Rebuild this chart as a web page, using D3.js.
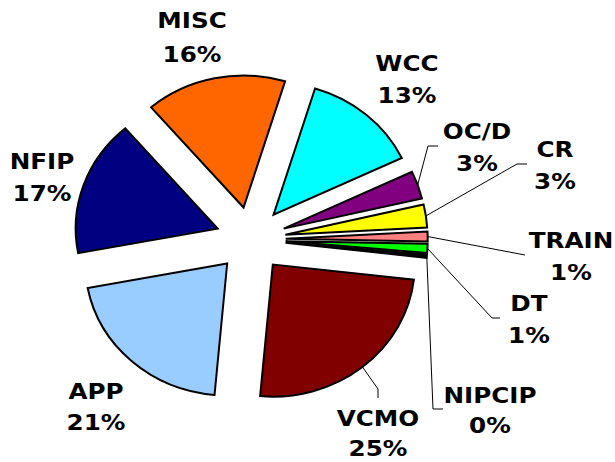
<!DOCTYPE html>
<html>
<head>
<meta charset="utf-8">
<script src="https://cdn.jsdelivr.net/npm/d3@7"></script>
<style>
  html, body { margin: 0; padding: 0; background: #fff; }
  svg { display: block; }
  .lbl { font-family: "DejaVu Sans", Verdana, sans-serif; font-weight: bold; font-size: 22px; fill: #000; }
</style>
</head>
<body>
<svg id="chart" width="615" height="462"></svg>
<script>
// ---- data ----
const categories = ["WCC", "OC/D", "CR", "TRAIN", "DT", "NIPCIP", "VCMO", "APP", "NFIP", "MISC"];
const values     = [13.2, 3.4, 2.8, 1.2, 1.1, 0.4, 24.6, 20.6, 16.7, 16.0];
const colors     = ["#00FFFF", "#800080", "#FFFF00", "#FF8080", "#00FF00", "#000000", "#800000", "#99CCFF", "#000080", "#FF6600"];

// ---- layout (label anchor: center x, baseline of line 1, baseline of line 2; leader bends) ----
const labelLayout = {
  "WCC":    { x: 407, y1: 71,  y2: 103, leader: [] },
  "OC/D":   { x: 477, y1: 139, y2: 171, leader: [[428, 146], [438, 146]] },
  "CR":     { x: 555, y1: 157, y2: 189, leader: [[517, 164], [527, 164]] },
  "TRAIN":  { x: 571, y1: 248, y2: 280, leader: [[525, 255]] },
  "DT":     { x: 529, y1: 311, y2: 343, leader: [[492, 318], [500, 318]] },
  "NIPCIP": { x: 490, y1: 403, y2: 433, leader: [[433, 409], [443, 409]] },
  "VCMO":   { x: 378, y1: 426, y2: 456, leader: [[378, 389], [378, 398]] },
  "APP":    { x: 96,  y1: 399, y2: 430, leader: [] },
  "NFIP":   { x: 42,  y1: 169, y2: 201, leader: [] },
  "MISC":   { x: 192, y1: 28,  y2: 62,  leader: [] }
};
const textStretch = 1.12; // widen glyphs to resemble Verdana Bold

const cx = 250.7, cy = 239.4;
const rx = 142, ry = 132;
const explode = 35;
const sy = ry / rx;
const start = 17 * Math.PI / 180;

const data = categories.map((c, i) => ({ name: c, value: values[i], color: colors[i] }));
const total = d3.sum(values);

const svg = d3.select("#chart");

const pie = d3.pie().sort(null).value(d => d.value)
  .startAngle(start).endAngle(start + 2 * Math.PI);
const arc = d3.arc().innerRadius(0).outerRadius(rx);
const arcs = pie(data);

const mid = d => (d.startAngle + d.endAngle) / 2;

svg.append("g").selectAll("g.slice")
  .data(arcs)
  .join("g")
  .attr("class", "slice")
  .attr("transform", d => {
    const a = mid(d);
    const ox = cx + explode * Math.sin(a);
    const oy = cy - explode * sy * Math.cos(a);
    return `translate(${ox},${oy}) scale(1,${sy})`;
  })
  .append("path")
  .attr("d", arc)
  .attr("fill", d => d.data.color)
  .attr("stroke", "#000")
  .attr("stroke-width", 2)
  .attr("vector-effect", "non-scaling-stroke");

// leader lines
const line = d3.line();
svg.append("g").selectAll("path.leader")
  .data(arcs.filter(d => labelLayout[d.data.name].leader.length))
  .join("path")
  .attr("class", "leader")
  .attr("fill", "none")
  .attr("stroke", "#000")
  .attr("stroke-width", 1)
  .attr("d", d => {
    const a = mid(d);
    const p0 = [cx + (explode + rx) * Math.sin(a), cy - (explode * sy + ry) * Math.cos(a)];
    return line([p0, ...labelLayout[d.data.name].leader]);
  });

// labels
const lg = svg.append("g").selectAll("g.label")
  .data(arcs)
  .join("g").attr("class", "label")
  .attr("transform", d => `translate(${labelLayout[d.data.name].x},0) scale(${textStretch},1)`);
lg.append("text").attr("class", "lbl")
  .attr("text-anchor", "middle")
  .attr("x", 0)
  .attr("y", d => labelLayout[d.data.name].y1)
  .text(d => d.data.name);
lg.append("text").attr("class", "lbl")
  .attr("text-anchor", "middle")
  .attr("x", 0)
  .attr("y", d => labelLayout[d.data.name].y2)
  .text(d => Math.round(d.data.value / total * 100) + "%");
</script>
</body>
</html>
